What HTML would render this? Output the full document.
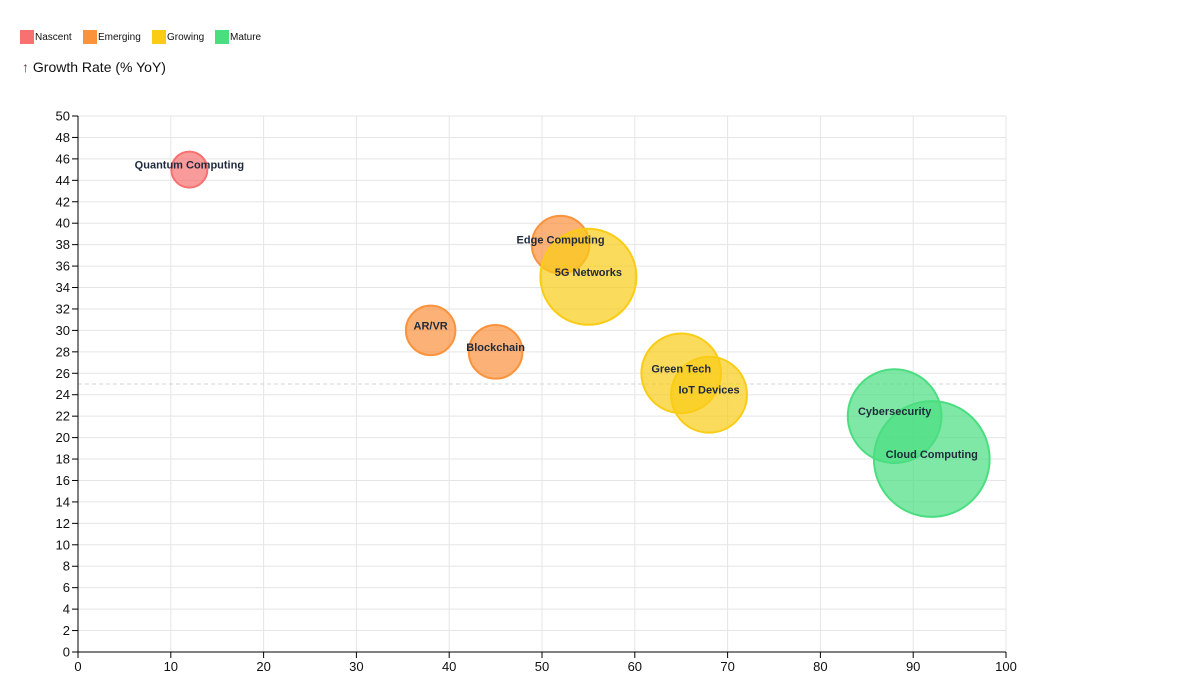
<!DOCTYPE html>
<html><head><meta charset="utf-8"><style>
body{margin:0;background:#fff;font-family:"Liberation Sans",sans-serif}
</style></head><body>
<svg id="c" width="1200" height="675" style="display:block">
<g font-size="10" fill="#111">
<rect x="20" y="30" width="14" height="14" fill="#f87171"/><text x="35" y="40">Nascent</text>
<rect x="83" y="30" width="14" height="14" fill="#fb923c"/><text x="98" y="40">Emerging</text>
<rect x="152" y="30" width="14" height="14" fill="#facc15"/><text x="167" y="40">Growing</text>
<rect x="215" y="30" width="14" height="14" fill="#4ade80"/><text x="230" y="40">Mature</text>
</g>
<text x="22" y="72" font-size="14" fill="#111"><tspan fill="#7c2d4a">↑</tspan> Growth Rate (% YoY)</text>
<g id="grid"></g><g id="axes"></g><g id="marks"></g><g id="labels"></g>
</svg>
<script>
const names=["Quantum Computing","Edge Computing","5G Networks","AR/VR","Blockchain","Green Tech","IoT Devices","Cybersecurity","Cloud Computing"];
const maturity=[12,52,55,38,45,65,68,88,92];
const growth=[45,38,35,30,28,26,24,22,18];
const marketSize=[9,23,64,17,20,44,40,61,93];
const stage=["Nascent","Emerging","Growing","Emerging","Emerging","Growing","Growing","Mature","Mature"];
const xTicks=[0,10,20,30,40,50,60,70,80,90,100];
const yTicks=[0,2,4,6,8,10,12,14,16,18,20,22,24,26,28,30,32,34,36,38,40,42,44,46,48,50];
const threshold=25;
const colors={Nascent:"#f87171",Emerging:"#fb923c",Growing:"#facc15",Mature:"#4ade80"};
const X0=78,X1=1006,Y0=652,Y1=116;
const xs=v=>X0+(v-0)/(100)*(X1-X0);
const ys=v=>Y0-(v)/(50)*(Y0-Y1);
const rs=v=>Math.sqrt(v)*6;
const NS="http://www.w3.org/2000/svg";
function mk(p,t,a){const e=document.createElementNS(NS,t);for(const k in a)e.setAttribute(k,a[k]);p.appendChild(e);return e;}
const grid=document.getElementById('grid'),axes=document.getElementById('axes'),marks=document.getElementById('marks'),labels=document.getElementById('labels');
xTicks.forEach(t=>{
 const l=mk(grid,'line',{x1:xs(t),x2:xs(t),y1:Y1,y2:Y0,stroke:'#e5e5e5'});
 
 
 mk(axes,'line',{x1:xs(t),x2:xs(t),y1:Y0,y2:Y0+6,stroke:'#000'});
 const tx=mk(axes,'text',{x:xs(t),y:Y0+19,'text-anchor':'middle','font-size':13,fill:'#111'});tx.textContent=t;
 
 
});
yTicks.forEach(t=>{
 const l=mk(grid,'line',{x1:X0,x2:X1,y1:ys(t),y2:ys(t),stroke:'#e5e5e5'});
 
 
 mk(axes,'line',{x1:X0-6,x2:X0,y1:ys(t),y2:ys(t),stroke:'#000'});
 const tx=mk(axes,'text',{x:X0-8,y:ys(t)+4.5,'text-anchor':'end','font-size':13,fill:'#111'});tx.textContent=t;
 
 
});
const th=mk(grid,'line',{x1:X0,x2:X1,y1:ys(threshold),y2:ys(threshold),stroke:'#d4d4d4','stroke-dasharray':'4,3'});


const ax=mk(axes,'line',{x1:X0,x2:X0,y1:Y1,y2:Y0,stroke:'#000'});


const ax2=mk(axes,'line',{x1:X0,x2:X1,y1:Y0,y2:Y0,stroke:'#000'});


names.forEach((n,i)=>{
 const c=colors[stage[i]];
 const b=mk(marks,'circle',{cx:xs(maturity[i]),cy:ys(growth[i]),r:rs(marketSize[i]),fill:c,'fill-opacity':0.7,stroke:c,'stroke-width':2});
 
 
 const t=mk(labels,'text',{x:xs(maturity[i]),y:ys(growth[i])-1,'text-anchor':'middle','font-size':11,'font-weight':'bold',fill:'#1e293b'});
 t.textContent=n;
 
 
});
</script>
</body></html>
